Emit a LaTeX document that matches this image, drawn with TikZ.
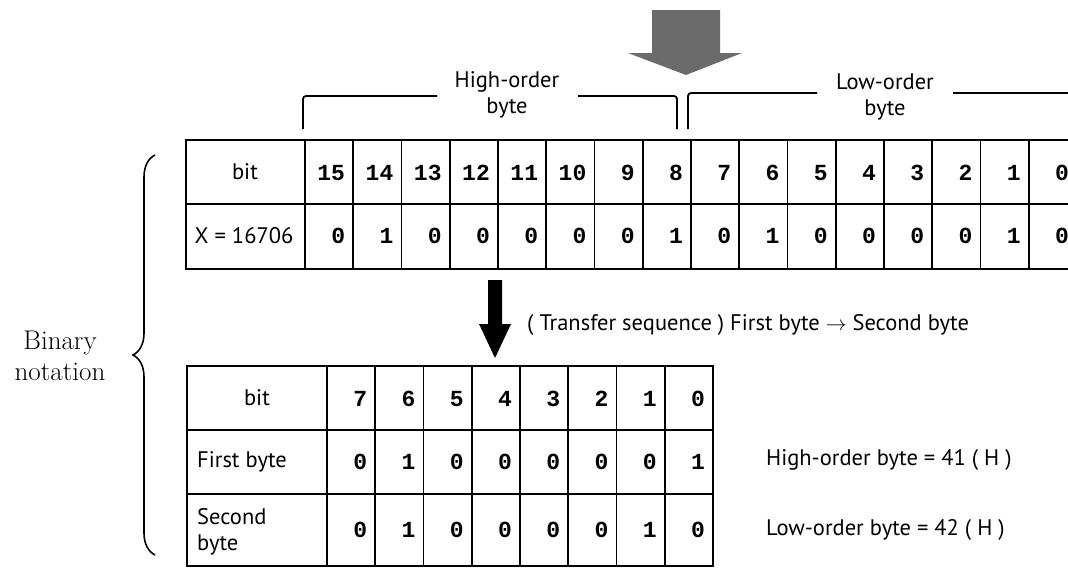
\documentclass[tikz,border=0pt]{standalone}
\usepackage{fontspec}
\newfontfamily\labfont{PT Sans}
\newfontfamily\digfont{Liberation Mono}
\usetikzlibrary{decorations.pathreplacing,calc}
\begin{document}
\begin{tikzpicture}[x=1pt,y=-1pt,
  grid/.style={line width=1.7pt},
  outer/.style={line width=2.2pt},
  lbl/.style={font=\labfont\fontsize{22.5}{26}\selectfont, inner sep=0pt},
  dig/.style={font=\digfont\bfseries\fontsize{23}{27}\selectfont, inner sep=0pt, anchor=east},
  brk/.style={line width=1.8pt, rounded corners=3pt},
  bigarrow/.style={fill=black!58},
  blackarrow/.style={fill=black}]
\clip (0,0) rectangle (1068,568);
\fill[white] (0,0) rectangle (1068,568);

% gray arrow
\fill[bigarrow] (652,10) -- (720,10) -- (720,53) -- (742,53) -- (686,75) -- (628,53) -- (652,53) -- cycle;

% brackets
\node[lbl, align=center] (hi) at (507,95) {High-order\\byte};
\node[lbl, align=center] (lo) at (885,97) {Low-order\\byte};
\draw[brk] (303,129) -- (303,96) -- (437,96);
\draw[brk] (578,96) -- (677,96) -- (677,129);
\draw[brk] (688,129) -- (688,93) -- (817,93);
\draw[brk] (953,93) -- (1085,93) -- (1085,129);

% top table
\foreach \k in {0,...,16} \draw[grid] ({305+48.25*\k},140) -- ({305+48.25*\k},269);
\draw[grid] (186,204) -- (1080,204);
\draw[outer] (186,140) rectangle (1080,269);
\node[lbl] (tbit) at (245,172) {bit};
\node[lbl] (tx) at (244,236) {X = 16706};
\foreach \b [count=\k from 1] in {15,14,...,0}
  \node[dig] (th\k) at ({305+48.25*\k-8},173) {\b};
\foreach \v [count=\k from 1] in {0,1,0,0,0,0,0,1,0,1,0,0,0,0,1,0}
  \node[dig] (tv\k) at ({305+48.25*\k-8},236) {\v};

% black arrow and sequence text
\fill[blackarrow] (488,280) -- (502,280) -- (502,324) -- (511,324) -- (495,358) -- (479,324) -- (488,324) -- cycle;
\node[lbl, anchor=west] (seq) at (527,325) {( Transfer sequence ) First byte $\rightarrow$ Second byte};

% bottom table
\foreach \k in {0,...,8} \draw[grid] ({327+48.25*\k},366) -- ({327+48.25*\k},566);
\draw[grid] (187,430) -- (713,430);
\draw[grid] (187,494) -- (713,494);
\draw[outer] (187,366) rectangle (713,566);
\node[lbl] (bbit) at (257,398) {bit};
\node[lbl, anchor=west] (bfirst) at (197,462) {First byte};
\node[lbl, anchor=west, align=left] (bsecond) at (197,532) {Second\\byte};
\foreach \b [count=\k from 1] in {7,6,...,0}
  \node[dig] (bh\k) at ({327+48.25*\k-8},399) {\b};
\foreach \v [count=\k from 1] in {0,1,0,0,0,0,0,1}
  \node[dig] (bf\k) at ({327+48.25*\k-8},462) {\v};
\foreach \v [count=\k from 1] in {0,1,0,0,0,0,1,0}
  \node[dig] (bs\k) at ({327+48.25*\k-8},530) {\v};

% right side notes
\node[lbl, anchor=west] (hob) at (766,460) {High-order byte = 41 ( H )};
\node[lbl, anchor=west] (lob) at (766,530) {Low-order byte = 42 ( H )};

% brace
\draw[line width=1.6pt, decorate, decoration={brace, amplitude=22pt}] (155,555) -- (155,155);
\node[font=\fontsize{27}{31}\selectfont, align=center] (bn) at (60,356) {Binary\\notation};
\end{tikzpicture}
\end{document}
